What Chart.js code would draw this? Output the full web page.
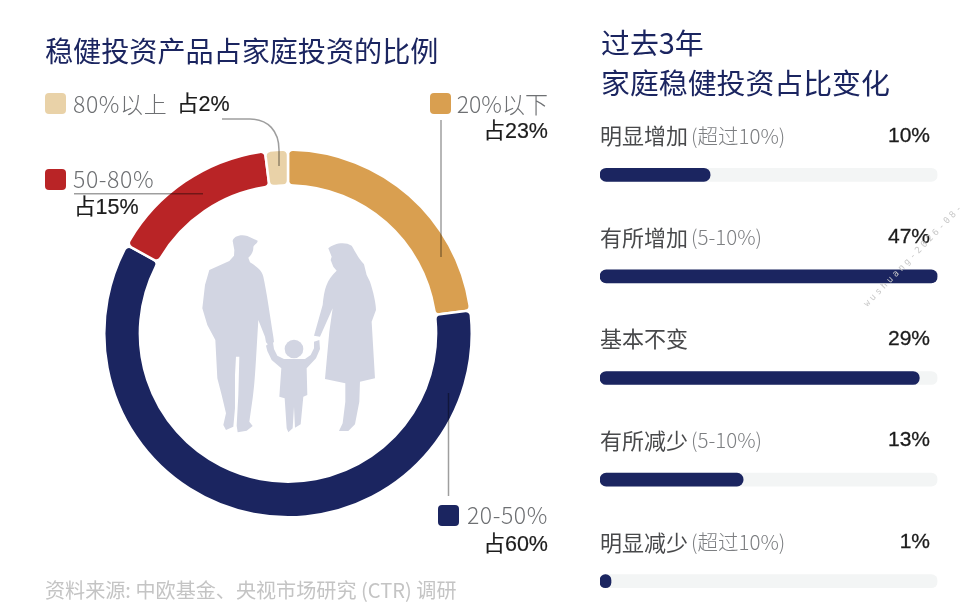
<!DOCTYPE html>
<html>
<head>
<meta charset="utf-8">
<script src="https://cdn.jsdelivr.net/npm/chart.js@4"></script>
<style>
  html, body { margin: 0; padding: 0; background: #fff; overflow: hidden; }
  #page { position: relative; width: 960px; height: 615px; overflow: hidden; font-family: "Noto Sans CJK SC", sans-serif; }
  #page canvas, #page svg { position: absolute; }
  .t { position: absolute; white-space: nowrap; line-height: 1; transform: translateY(-50%); }
  .title { color: #1b2560; font-size: 28.1px; font-weight: 400; }
  .title2 { color: #1b2560; font-size: 28.9px; font-weight: 400; }
  .leg { color: #6e7073; font-size: 23px; font-weight: 300; letter-spacing: 0.6px; }
  .pct { color: #1c1c1c; font-size: 21.5px; font-family: "Liberation Sans", "Noto Sans CJK SC", sans-serif; -webkit-text-stroke: 0.2px #1c1c1c; }
  .src { color: #c4c4c4; font-size: 20.1px; font-weight: 400; }
  .sw { position: absolute; width: 21px; height: 21px; border-radius: 4px; }
  .mark { position: absolute; left: 865px; top: 300px; color: #c8c8c8; font: 9px "DejaVu Sans Mono", monospace; letter-spacing: 2.8px; white-space: nowrap; transform-origin: 0 50%; transform: rotate(-46deg); }
  #donutBox { position: absolute; left: 100px; top: 146px; width: 376px; height: 375px; }
  #barBox { position: absolute; left: 590px; top: 124px; width: 370px; height: 508px; }
</style>
</head>
<body>
<div id="page">
  <svg width="960" height="615" style="left:0;top:0">
    <g transform="translate(190,225) scale(0.3333)" fill="#d2d5e2">
      <path d="M128,48 C130,35 150,27 172,33 L203,47 C204,55 192,58 190,66 C191,80 183,92 175,98 L180,112 C200,125 215,135 220,155 C230,200 240,270 250,335 L252,350 L240,365 L228,352 L225,335 L205,285 L202,335 C198,400 195,470 188,520 L178,590 L188,603 L170,617 L143,622 L140,602 L145,510 L148,395 L138,395 L135,450 L135,550 L130,605 L108,615 L100,600 L108,565 L95,510 L82,460 L76,345 L52,300 L37,250 L45,180 L58,135 L118,108 L132,92 L133,75 Z"/>
      <path d="M415,70 C430,55 465,48 485,62 C495,78 505,100 522,118 L530,150 L540,170 C550,200 558,235 558,255 L545,290 L555,460 L510,470 L508,530 L495,598 L475,618 L447,618 L458,595 L466,530 L466,475 L405,462 L418,320 L428,250 L390,335 L372,332 L398,240 C403,190 410,165 440,137 L430,125 L422,105 L425,95 Z"/>
      <circle cx="312" cy="372" r="28"/>
      <path d="M228,362 L248,345 L252,372 L262,392 L282,402 L345,402 L362,390 L372,370 L372,350 L388,345 L390,372 L378,400 L350,430 L352,510 L340,515 L332,598 L315,608 L312,545 L308,610 L295,622 L290,610 L284,520 L268,515 L274,430 L245,405 L232,378 Z"/>
    </g>
  </svg>
  <div id="donutBox"><canvas id="donutCanvas"></canvas></div>
  <div id="barBox"><canvas id="barCanvas"></canvas></div>
  <svg width="960" height="615" style="left:0;top:0;pointer-events:none" fill="none" stroke="#000" stroke-opacity="0.38" stroke-width="1.5">
    <path d="M222,119 H250 C268,119 279,131 279,150 V166"/>
    <path d="M74,193.7 H203"/>
    <path d="M441,120 V257"/>
    <path d="M448.5,393 V496"/>
  </svg>
  <div class="mark">wushuang-2026-08-</div>
</div>

<script>
// ring: share of family investment
const ringLabels = ['20%以下', '20-50%', '50-80%', '80%以上'];
const ringValues = [23, 60, 15, 2];
const ringColors = ['#d99f50', '#1b2560', '#b92426', '#e9d2a8'];

// bars: change over the past 3 years
const barNames = ['明显增加', '有所增加', '基本不变', '有所减少', '明显减少'];
const barNotes = ['(超过10%)', '(5-10%)', '', '(5-10%)', '(超过10%)'];
const barValues = [10, 47, 29, 13, 1];
// the picture's track ends near 30.6, the 47% bar just fills it
const barAxisMax = 30.65;

const page = document.getElementById('page');

function addText(x, y, text, cls, right) {
    const el = document.createElement('div');
    el.className = 't ' + cls;
    el.textContent = text;
    el.style.top = y + 'px';
    if (right) {
        el.style.right = (960 - x) + 'px';
    } else {
        el.style.left = x + 'px';
    }
    page.appendChild(el);
    return el;
}

function addSwatch(x, y, color) {
    const el = document.createElement('div');
    el.className = 'sw';
    el.style.left = x + 'px';
    el.style.top = y + 'px';
    el.style.background = color;
    page.appendChild(el);
}

addText(45, 50, '稳健投资产品占家庭投资的比例', 'title');
addText(601, 41, '过去3年', 'title2');
addText(601, 81, '家庭稳健投资占比变化', 'title2');
addText(45, 590, '资料来源: 中欧基金、央视市场研究 (CTR) 调研', 'src');

addSwatch(45, 93, ringColors[3]);
addText(73, 103, ringLabels[3], 'leg');
addText(177, 104.5, '占' + ringValues[3] + '%', 'pct');

addSwatch(45, 169, ringColors[2]);
addText(73, 178, ringLabels[2], 'leg');
addText(74, 207.5, '占' + ringValues[2] + '%', 'pct');

addSwatch(430, 93, ringColors[0]);
addText(548, 103, ringLabels[0], 'leg', true).style.letterSpacing = '0';
addText(548, 131.5, '占' + ringValues[0] + '%', 'pct', true);

addSwatch(438, 505, ringColors[1]);
addText(548, 514, ringLabels[1], 'leg', true);
addText(548, 544.5, '占' + ringValues[1] + '%', 'pct', true);

new Chart(document.getElementById('donutCanvas').getContext('2d'), {
    type: 'doughnut',
    data: {
        labels: ringLabels,
        datasets: [{
            data: ringValues,
            backgroundColor: ringColors,
            borderColor: '#fff',
            borderWidth: 2.5,
            borderRadius: 5
        }]
    },
    options: {
        responsive: true,
        maintainAspectRatio: false,
        animation: false,
        cutout: '80.6%',
        layout: { padding: 2.5 },
        plugins: { legend: { display: false }, tooltip: { enabled: false } }
    }
});

// names and percentages above each bar
const barTextPlugin = {
    id: 'barText',
    afterDatasetsDraw(chart) {
        const ctx = chart.ctx;
        const yScale = chart.scales.y;
        ctx.save();
        ctx.textBaseline = 'middle';
        barNames.forEach((name, i) => {
            const y = yScale.getPixelForValue(i) - 39;
            ctx.textAlign = 'left';
            ctx.font = '400 22px "Noto Sans CJK SC"';
            ctx.fillStyle = '#48494b';
            ctx.fillText(name, 10, y);
            const w = ctx.measureText(name).width;
            ctx.font = '300 20.5px "Noto Sans CJK SC"';
            ctx.fillStyle = '#7d7f82';
            ctx.fillText(barNotes[i], 10 + w + 3, y);
            ctx.textAlign = 'right';
            ctx.font = '21px "Liberation Sans"';
            ctx.fillStyle = '#1c1c1c';
            ctx.strokeStyle = '#1c1c1c';
            ctx.lineWidth = 0.3;
            ctx.fillText(barValues[i] + '%', 340, y);
            ctx.strokeText(barValues[i] + '%', 340, y);
        });
        ctx.restore();
    }
};

new Chart(document.getElementById('barCanvas').getContext('2d'), {
    type: 'bar',
    data: {
        labels: barNames,
        datasets: [
            {
                data: barValues.map(v => Math.min(v, barAxisMax)),
                backgroundColor: '#1b2560',
                borderRadius: 6.5,
                borderSkipped: false,
                barThickness: 13
            },
            {
                data: barValues.map(() => barAxisMax),
                backgroundColor: '#f3f5f5',
                borderRadius: 6.5,
                borderSkipped: false,
                barThickness: 13
            }
        ]
    },
    options: {
        indexAxis: 'y',
        responsive: true,
        maintainAspectRatio: false,
        animation: false,
        layout: { padding: { left: 10, right: 22.5, top: 0, bottom: 0 } },
        scales: {
            x: { display: false, min: 0, max: barAxisMax },
            y: { display: false, stacked: true }
        },
        plugins: { legend: { display: false }, tooltip: { enabled: false } }
    },
    plugins: [barTextPlugin]
});
</script>
</body>
</html>
